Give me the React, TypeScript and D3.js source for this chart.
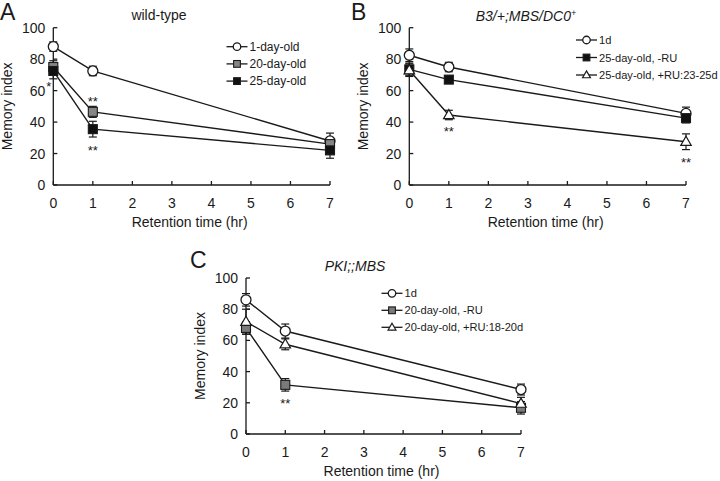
import React from 'react';
import * as d3 from 'd3';

// ---------- data ----------
const hours = [0, 1, 7];
const xTickValues = [0, 1, 2, 3, 4, 5, 6, 7];
const yTickValues = [0, 20, 40, 60, 80, 100];

// Panel A: wild-type
const aNames = ['1-day-old', '20-day-old', '25-day-old'];
const a1dMean = [88, 72.5, 28];
const a1dErr = [3, 3, 5];
const a20dMean = [75, 46.5, 26];
const a20dErr = [4, 3.5, 4];
const a25dMean = [72.5, 35.5, 22];
const a25dErr = [5, 5, 5];

// Panel B: B3/+;MBS/DC0+
const bNames = ['1d', '25-day-old, -RU', '25-day-old, +RU:23-25d'];
const b1dMean = [82.5, 75, 45.5];
const b1dErr = [4, 3, 4];
const bMinusMean = [73.5, 67, 42.5];
const bMinusErr = [4, 2, 3];
const bPlusMean = [73, 44.5, 27.5];
const bPlusErr = [4, 3, 5];

// Panel C: PKI;;MBS
const cNames = ['1d', '20-day-old, -RU', '20-day-old, +RU:18-20d'];
const c1dMean = [86, 66, 28.5];
const c1dErr = [4, 4.5, 3.5];
const cMinusMean = [68, 31.5, 16.8];
const cMinusErr = [4, 4, 4];
const cPlusMean = [72, 57.5, 19.5];
const cPlusErr = [8, 3.5, 4];

// significance marks: [hour, value at text baseline]
const aStarHours = [0, 1, 1];
const aStarValues = [60, 50, 19];
const aStarTexts = ['*', '**', '**'];
const bStarHours = [1, 7];
const bStarValues = [31, 11.5];
const bStarTexts = ['**', '**'];
const cStarHours = [1];
const cStarValues = [16.7];
const cStarTexts = ['**'];

// ---------- styling ----------
const FONT = '"Liberation Sans", Arial, Helvetica, sans-serif';
const INK = '#1a1a1a';
const GRAY = '#858585';

type Shape = 'circle' | 'square' | 'triangle';
interface Series { name: string; mean: number[]; err: number[]; shape: Shape; fill: string; }

interface PanelDef {
  letter: string; letterX: number; letterY: number;
  title: React.ReactNode; titleX: number; titleY: number;
  left: number; right: number; top: number; bottom: number;
  series: Series[];
  legendX: number; legendY: number; legendDy: number; legendFont: number;
  starHours: number[]; starValues: number[]; starTexts: string[]; starDx: number[];
}

function Marker({ shape, fill, x, y, size }: { shape: Shape; fill: string; x: number; y: number; size: number }) {
  if (shape === 'circle') {
    return <circle cx={x} cy={y} r={size / 2} fill="#fff" stroke={INK} strokeWidth={1.3} />;
  }
  if (shape === 'square') {
    const s = size * 0.9;
    return <rect x={x - s / 2} y={y - s / 2} width={s} height={s} fill={fill} stroke={INK} strokeWidth={1.1} />;
  }
  const w = size * 1.05;
  const h = w * 0.87;
  const p = `M${x},${y - h * 0.6} L${x + w / 2},${y + h * 0.4} L${x - w / 2},${y + h * 0.4} Z`;
  return <path d={p} fill="#fff" stroke={INK} strokeWidth={1.2} />;
}

function Panel({ def }: { def: PanelDef }) {
  const x = d3.scaleLinear().domain([0, 7]).range([def.left, def.right]);
  const y = d3.scaleLinear().domain([0, 100]).range([def.bottom, def.top]);
  const line = d3.line<number>().x((_, i) => x(hours[i])).y((v) => y(v));
  const tick = 4;
  const cap = 4;
  const xMid = (def.left + def.right) / 2 - 2;
  return (
    <g fontFamily={FONT} fill={INK}>
      <text x={def.letterX} y={def.letterY} fontSize={23}>{def.letter}</text>
      <text x={def.titleX} y={def.titleY} fontSize={14} textAnchor="middle">{def.title}</text>
      {/* axes */}
      <line x1={def.left} x2={def.left} y1={y(0)} y2={y(100)} stroke={INK} strokeWidth={1.3} />
      <line x1={x(0)} x2={x(7)} y1={def.bottom} y2={def.bottom} stroke={INK} strokeWidth={1.3} />
      {yTickValues.map((t) => (
        <g key={'y' + t}>
          <line x1={def.left} x2={def.left + tick} y1={y(t)} y2={y(t)} stroke={INK} strokeWidth={1.3} />
          <text x={def.left - 8} y={y(t)} fontSize={14} textAnchor="end" dominantBaseline="central">{t}</text>
        </g>
      ))}
      {xTickValues.map((t) => (
        <g key={'x' + t}>
          <line x1={x(t)} x2={x(t)} y1={def.bottom} y2={def.bottom - tick} stroke={INK} strokeWidth={1.3} />
          <text x={x(t)} y={def.bottom + 23} fontSize={14} textAnchor="middle">{t}</text>
        </g>
      ))}
      <text x={xMid} y={def.bottom + 42} fontSize={14} textAnchor="middle">Retention time (hr)</text>
      <text transform={`translate(${def.left - 41.3},${(def.top + def.bottom) / 2}) rotate(-90)`} fontSize={14} textAnchor="middle">Memory index</text>
      {/* lines */}
      {def.series.map((s) => (
        <path key={'l' + s.name} d={line(s.mean) || ''} fill="none" stroke={INK} strokeWidth={1.4} />
      ))}
      {/* error bars */}
      {def.series.map((s) => s.mean.map((m, i) => {
        const cx = x(hours[i]);
        const y1 = y(m - s.err[i]);
        const y2 = y(m + s.err[i]);
        return (
          <g key={'e' + s.name + i} stroke={INK} strokeWidth={1.2}>
            <line x1={cx} x2={cx} y1={y1} y2={y2} />
            <line x1={cx - cap} x2={cx + cap} y1={y1} y2={y1} />
            <line x1={cx - cap} x2={cx + cap} y1={y2} y2={y2} />
          </g>
        );
      }))}
      {/* markers */}
      {def.series.map((s) => s.mean.map((m, i) => (
        <Marker key={'m' + s.name + i} shape={s.shape} fill={s.fill} x={x(hours[i])} y={y(m)} size={10} />
      )))}
      {/* stars */}
      {def.starHours.map((h, i) => (
        <text key={'s' + i} x={x(h) + def.starDx[i]} y={y(def.starValues[i])} fontSize={13} textAnchor="middle">{def.starTexts[i]}</text>
      ))}
      {/* legend */}
      {def.series.map((s, i) => {
        const ly = def.legendY + i * def.legendDy;
        return (
          <g key={'lg' + s.name}>
            <line x1={def.legendX} x2={def.legendX + 21} y1={ly} y2={ly} stroke={INK} strokeWidth={1.3} />
            <Marker shape={s.shape} fill={s.fill} x={def.legendX + 10.5} y={ly} size={7.5} />
            <text x={def.legendX + 23} y={ly} fontSize={def.legendFont} dominantBaseline="central">{s.name}</text>
          </g>
        );
      })}
    </g>
  );
}

export default function App() {
  const panelA: PanelDef = {
    letter: 'A', letterX: 0, letterY: 20,
    title: 'wild-type', titleX: 159, titleY: 19.5,
    left: 53.3, right: 330, top: 27.7, bottom: 185,
    series: [
      { name: aNames[0], mean: a1dMean, err: a1dErr, shape: 'circle', fill: '#fff' },
      { name: aNames[1], mean: a20dMean, err: a20dErr, shape: 'square', fill: GRAY },
      { name: aNames[2], mean: a25dMean, err: a25dErr, shape: 'square', fill: '#111' },
    ],
    legendX: 226.5, legendY: 46.7, legendDy: 17.2, legendFont: 12,
    starHours: aStarHours, starValues: aStarValues, starTexts: aStarTexts, starDx: [-4.5, 0, 0],
  };
  const panelB: PanelDef = {
    letter: 'B', letterX: 351, letterY: 20,
    title: (
      <tspan fontStyle="italic">B3/+;MBS/DC0<tspan fontSize={9} dy={-5}>+</tspan></tspan>
    ), titleX: 526, titleY: 21,
    left: 409.3, right: 686, top: 27.7, bottom: 185,
    series: [
      { name: bNames[0], mean: b1dMean, err: b1dErr, shape: 'circle', fill: '#fff' },
      { name: bNames[1], mean: bMinusMean, err: bMinusErr, shape: 'square', fill: '#111' },
      { name: bNames[2], mean: bPlusMean, err: bPlusErr, shape: 'triangle', fill: '#fff' },
    ],
    legendX: 576, legendY: 40, legendDy: 17.5, legendFont: 11.1,
    starHours: bStarHours, starValues: bStarValues, starTexts: bStarTexts, starDx: [0, 0],
  };
  const panelC: PanelDef = {
    letter: 'C', letterX: 190, letterY: 268,
    title: <tspan fontStyle="italic">PKI;;MBS</tspan>, titleX: 355, titleY: 271,
    left: 246, right: 521, top: 278, bottom: 434,
    series: [
      { name: cNames[0], mean: c1dMean, err: c1dErr, shape: 'circle', fill: '#fff' },
      { name: cNames[1], mean: cMinusMean, err: cMinusErr, shape: 'square', fill: '#7a7a7a' },
      { name: cNames[2], mean: cPlusMean, err: cPlusErr, shape: 'triangle', fill: '#fff' },
    ],
    legendX: 381.5, legendY: 293.3, legendDy: 17, legendFont: 11.1,
    starHours: cStarHours, starValues: cStarValues, starTexts: cStarTexts, starDx: [0],
  };
  return (
    <svg width={720} height={481} viewBox="0 0 720 481" style={{ position: 'absolute', left: 0, top: 0, background: '#fff' }}>
      <rect width={720} height={481} fill="#fff" />
      <Panel def={panelA} />
      <Panel def={panelB} />
      <Panel def={panelC} />
    </svg>
  );
}
